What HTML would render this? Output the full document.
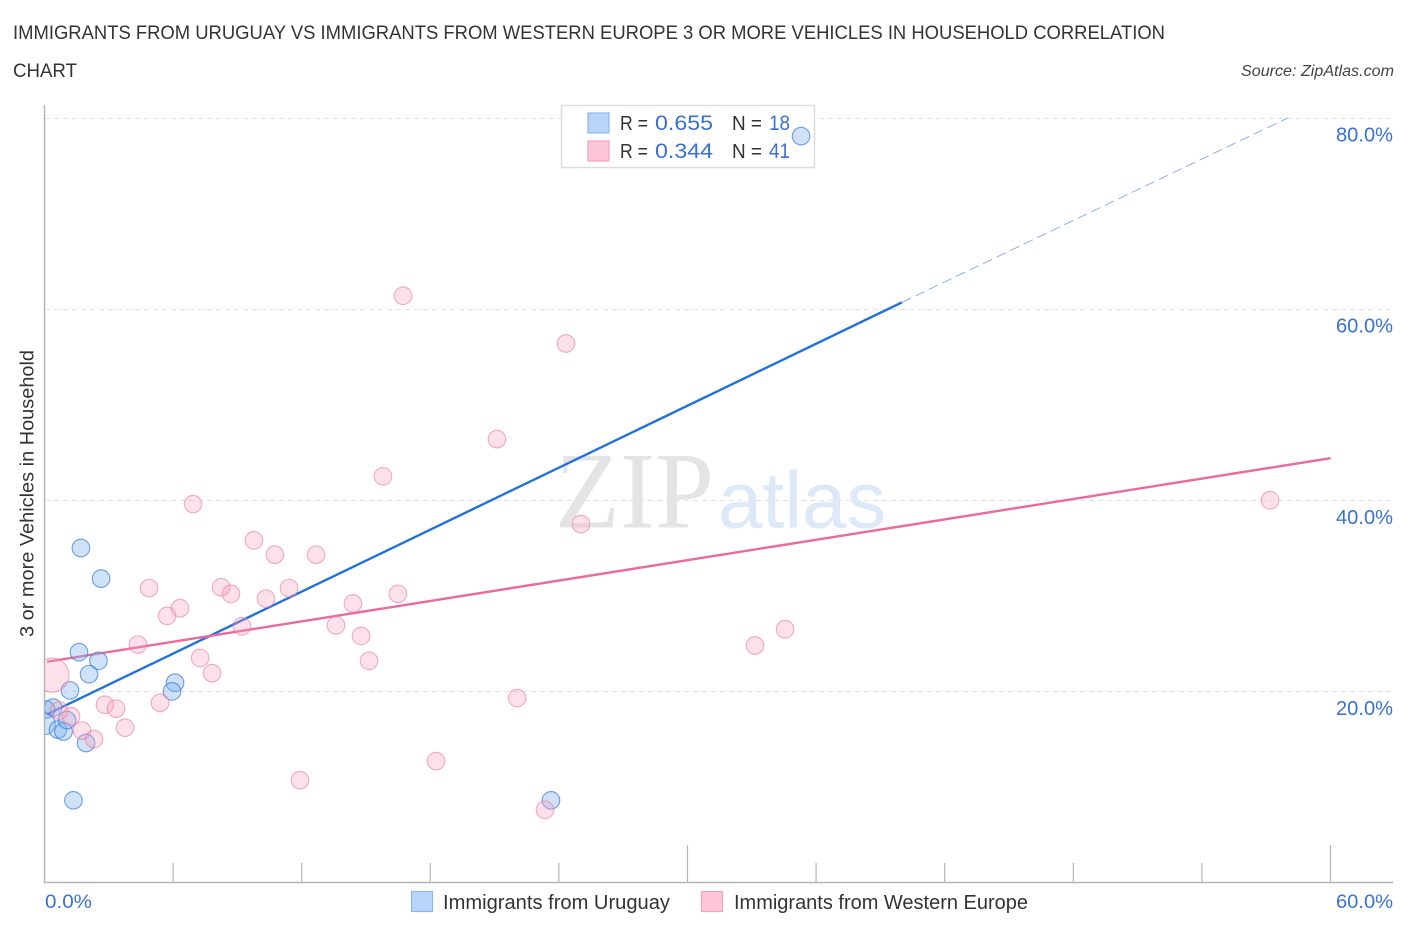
<!DOCTYPE html>
<html lang="en">
<head>
<meta charset="utf-8">
<title>Immigrants from Uruguay vs Immigrants from Western Europe chart</title>
<style>
  html, body { margin: 0; padding: 0; background: #fff; }
  svg { display: block; font-family: "Liberation Sans", sans-serif; }
</style>
</head>
<body>
<svg id="chart" xmlns="http://www.w3.org/2000/svg" width="1406" height="930" viewBox="0 0 1406 930">
  <defs>
    <clipPath id="plot-clip"><rect x="45" y="100" width="1350" height="782"></rect></clipPath>
  </defs>
  <rect x="0" y="0" width="1406" height="930" fill="#ffffff"></rect>

  <text x="13" y="39" font-size="19" fill="#333" textLength="1152" lengthAdjust="spacingAndGlyphs">IMMIGRANTS FROM URUGUAY VS IMMIGRANTS FROM WESTERN EUROPE 3 OR MORE VEHICLES IN HOUSEHOLD CORRELATION</text>
  <text x="13" y="77" font-size="19" fill="#333" textLength="64" lengthAdjust="spacingAndGlyphs">CHART</text>
  <text x="1241" y="76" font-size="15.5" font-style="italic" fill="#444" textLength="153" lengthAdjust="spacingAndGlyphs">Source: ZipAtlas.com</text>

  <g>
    <text x="555" y="527.5" font-family="'Liberation Serif', serif" font-size="109" fill="#e4e4e4" textLength="159" lengthAdjust="spacingAndGlyphs">ZIP</text>
    <text x="718" y="527.5" font-size="80" fill="#dde9f8" textLength="168" lengthAdjust="spacingAndGlyphs">atlas</text>
  </g>

  <g id="grid"></g>
  <g id="axes"></g>
  <g id="ticks"></g>
  <g id="tick-labels"></g>

  <text transform="translate(33.5,493.5) rotate(-90)" text-anchor="middle" font-size="19" fill="#333" textLength="287" lengthAdjust="spacingAndGlyphs">3 or more Vehicles in Household</text>

  <g>
    <rect x="561.5" y="105.5" width="253" height="62" fill="#ffffff" stroke="#dcdcdc" stroke-width="1.5"></rect>
    <rect x="588" y="113" width="21" height="20" fill="#b9d4f9" stroke="#8fb6ec" stroke-width="1.2"></rect>
    <rect x="588" y="141" width="21" height="20" fill="#fcc6d8" stroke="#f2a3bd" stroke-width="1.2"></rect>
    <text x="620" y="130" font-size="20" fill="#333" textLength="28" lengthAdjust="spacingAndGlyphs">R =</text>
    <text x="655" y="130" font-size="21" fill="#3b71d1" textLength="58" lengthAdjust="spacingAndGlyphs">0.655</text>
    <text x="732" y="130" font-size="20" fill="#333" textLength="30" lengthAdjust="spacingAndGlyphs">N =</text>
    <text x="769" y="130" font-size="21" fill="#3b71d1" textLength="21" lengthAdjust="spacingAndGlyphs">18</text>
    <text x="620" y="158" font-size="20" fill="#333" textLength="28" lengthAdjust="spacingAndGlyphs">R =</text>
    <text x="655" y="158" font-size="21" fill="#3b71d1" textLength="58" lengthAdjust="spacingAndGlyphs">0.344</text>
    <text x="732" y="158" font-size="20" fill="#333" textLength="30" lengthAdjust="spacingAndGlyphs">N =</text>
    <text x="769" y="158" font-size="21" fill="#3b71d1" textLength="21" lengthAdjust="spacingAndGlyphs">41</text>
  </g>

  <g id="trends" clip-path="url(#plot-clip)"></g>
  <g id="points" clip-path="url(#plot-clip)"></g>

  <g>
    <rect x="411.5" y="891.5" width="21" height="20" fill="#b9d4f9" stroke="#8fb6ec" stroke-width="1.2"></rect>
    <text x="443" y="909" font-size="20" fill="#333" textLength="227" lengthAdjust="spacingAndGlyphs">Immigrants from Uruguay</text>
    <rect x="701.5" y="891.5" width="21" height="20" fill="#fcc6d8" stroke="#f2a3bd" stroke-width="1.2"></rect>
    <text x="734" y="909" font-size="20" fill="#333" textLength="294" lengthAdjust="spacingAndGlyphs">Immigrants from Western Europe</text>
  </g>
</svg>
<script>
const xTickValues = [0, 6, 12, 18, 24, 30, 36, 42, 48, 54, 60];
const xMajorTicks = [0, 30, 60];
const xTickLabels = ['0.0%', '60.0%'];
const yTickValues = [20, 40, 60, 80];
const yTickLabels = ['20.0%', '40.0%', '60.0%', '80.0%'];

const uruguayX = [35.30, 1.70, 2.64, 1.61, 2.52, 2.08, 1.19, 6.09, 5.95, 0.40, 0.07, 0.00, 0.63, 0.89, 1.05, 1.94, 1.35, 23.63];
const uruguayY = [78.1, 35.0, 31.8, 24.1, 23.2, 21.8, 20.1, 20.9, 20.0, 18.3, 18.1, 16.6, 16.0, 15.8, 17.0, 14.6, 8.6, 8.6];
const uruguayWeight = [1, 1, 1, 1, 1, 1, 1, 1, 1, 1, 1, 1.5, 1, 1, 1, 1, 1, 1];

const europeX = [0.35, 24.33, 16.73, 21.11, 15.79, 6.93, 25.03, 9.77, 10.75, 12.67, 4.88, 8.24, 8.70, 10.33, 11.41, 16.49, 14.39, 6.32, 5.72, 9.21, 13.60, 14.77, 4.36, 7.26, 15.14, 7.82, 5.39, 2.82, 3.34, 22.05, 33.15, 34.55, 57.18, 11.92, 18.27, 23.35, 3.76, 1.24, 1.75, 2.31, 0.68];
const europeY = [21.7, 56.4, 61.4, 46.4, 42.5, 39.6, 37.5, 35.8, 34.3, 34.3, 30.8, 30.9, 30.2, 29.7, 30.8, 30.2, 29.2, 28.7, 27.9, 26.8, 26.9, 25.8, 24.9, 23.5, 23.2, 21.9, 18.8, 18.6, 18.2, 19.3, 24.8, 26.5, 40.0, 10.7, 12.7, 7.6, 16.2, 17.4, 15.9, 15.0, 18.0];
const europeWeight = [2, 1, 1, 1, 1, 1, 1, 1, 1, 1, 1, 1, 1, 1, 1, 1, 1, 1, 1, 1, 1, 1, 1, 1, 1, 1, 1, 1, 1, 1, 1, 1, 1, 1, 1, 1, 1, 1, 1, 1, 1];

const uruguayTrendX = [0.12, 40.0];
const uruguayTrendY = [17.6, 60.7];
const uruguayDashX = [40.0, 58.0];
const uruguayDashY = [60.7, 80.0];
const europeTrendX = [0.12, 60.0];
const europeTrendY = [23.1, 44.4];

const NS = 'http://www.w3.org/2000/svg';
const xScale = v => 44.5 + v * (1330.5 - 44.5) / 60;
const yScale = v => 882.5 - v * (882.5 - 118) / 80;
const radius = w => 8.8 * Math.sqrt(w) * (w > 1.9 ? 1.37 : 1);

function make(tag, attrs, parent) {
  const el = document.createElementNS(NS, tag);
  for (const k in attrs) el.setAttribute(k, attrs[k]);
  parent.appendChild(el);
  return el;
}

const grid = document.getElementById('grid');
yTickValues.forEach(v => {
  const gy = Math.round(yScale(v)) + 0.5;
  const l = make('line', { x1: 45, x2: 1393, y1: gy, y2: gy, stroke: '#e2e2e2', 'stroke-width': 1, 'stroke-dasharray': '5 4' }, grid);
  
  
});

const axes = document.getElementById('axes');
const yAxis = make('line', { x1: 44.5, x2: 44.5, y1: 105, y2: 883, stroke: '#b5b5b5', 'stroke-width': 1.5 }, axes);


const xAxis = make('line', { x1: 44, x2: 1393, y1: 882.5, y2: 882.5, stroke: '#b5b5b5', 'stroke-width': 1.5 }, axes);



const ticks = document.getElementById('ticks');
xTickValues.forEach(v => {
  if (v === 0) return;
  const top = xMajorTicks.includes(v) ? 845 : 863;
  const t = make('line', { x1: xScale(v), x2: xScale(v), y1: top, y2: 882, stroke: '#b5b5b5', 'stroke-width': 1.2 }, ticks);
  
  
});

const labels = document.getElementById('tick-labels');
yTickValues.forEach((v, i) => {
  const t = make('text', { x: 1336, y: yScale(v) + 23.5, 'font-size': 20, fill: '#3b71d1', textLength: 57, lengthAdjust: 'spacingAndGlyphs' }, labels);
  
  
  t.textContent = yTickLabels[i];
});
const x0 = make('text', { x: 45, y: 908, 'font-size': 19.5, fill: '#3b71d1', textLength: 47, lengthAdjust: 'spacingAndGlyphs' }, labels);


x0.textContent = xTickLabels[0];
const x1 = make('text', { x: 1336, y: 908, 'font-size': 19.5, fill: '#3b71d1', textLength: 57, lengthAdjust: 'spacingAndGlyphs' }, labels);


x1.textContent = xTickLabels[1];

const trends = document.getElementById('trends');
const dash = make('line', { x1: xScale(uruguayDashX[0]), y1: yScale(uruguayDashY[0]), x2: xScale(uruguayDashX[1]), y2: yScale(uruguayDashY[1]), stroke: '#8db0e4', 'stroke-width': 1, 'stroke-dasharray': '10 5' }, trends);



const points = document.getElementById('points');
uruguayX.forEach((x, i) => {
  const c = make('circle', { cx: xScale(x), cy: yScale(uruguayY[i]), r: radius(uruguayWeight[i]), fill: 'rgba(130,178,240,0.38)', stroke: 'rgba(60,125,215,0.72)', 'stroke-width': 1.1 }, points);
  
  
});
europeX.forEach((x, i) => {
  const c = make('circle', { cx: xScale(x), cy: yScale(europeY[i]), r: radius(europeWeight[i]), fill: 'rgba(246,160,190,0.33)', stroke: 'rgba(232,120,160,0.6)', 'stroke-width': 1.1 }, points);
  
  
});

const trendUruguay = make('line', { x1: xScale(uruguayTrendX[0]), y1: yScale(uruguayTrendY[0]), x2: xScale(uruguayTrendX[1]), y2: yScale(uruguayTrendY[1]), stroke: '#2272dc', 'stroke-width': 2.4 }, trends);


const trendEurope = make('line', { x1: xScale(europeTrendX[0]), y1: yScale(europeTrendY[0]), x2: xScale(europeTrendX[1]), y2: yScale(europeTrendY[1]), stroke: '#ea6a9b', 'stroke-width': 2.4 }, trends);


</script>
</body>
</html>
